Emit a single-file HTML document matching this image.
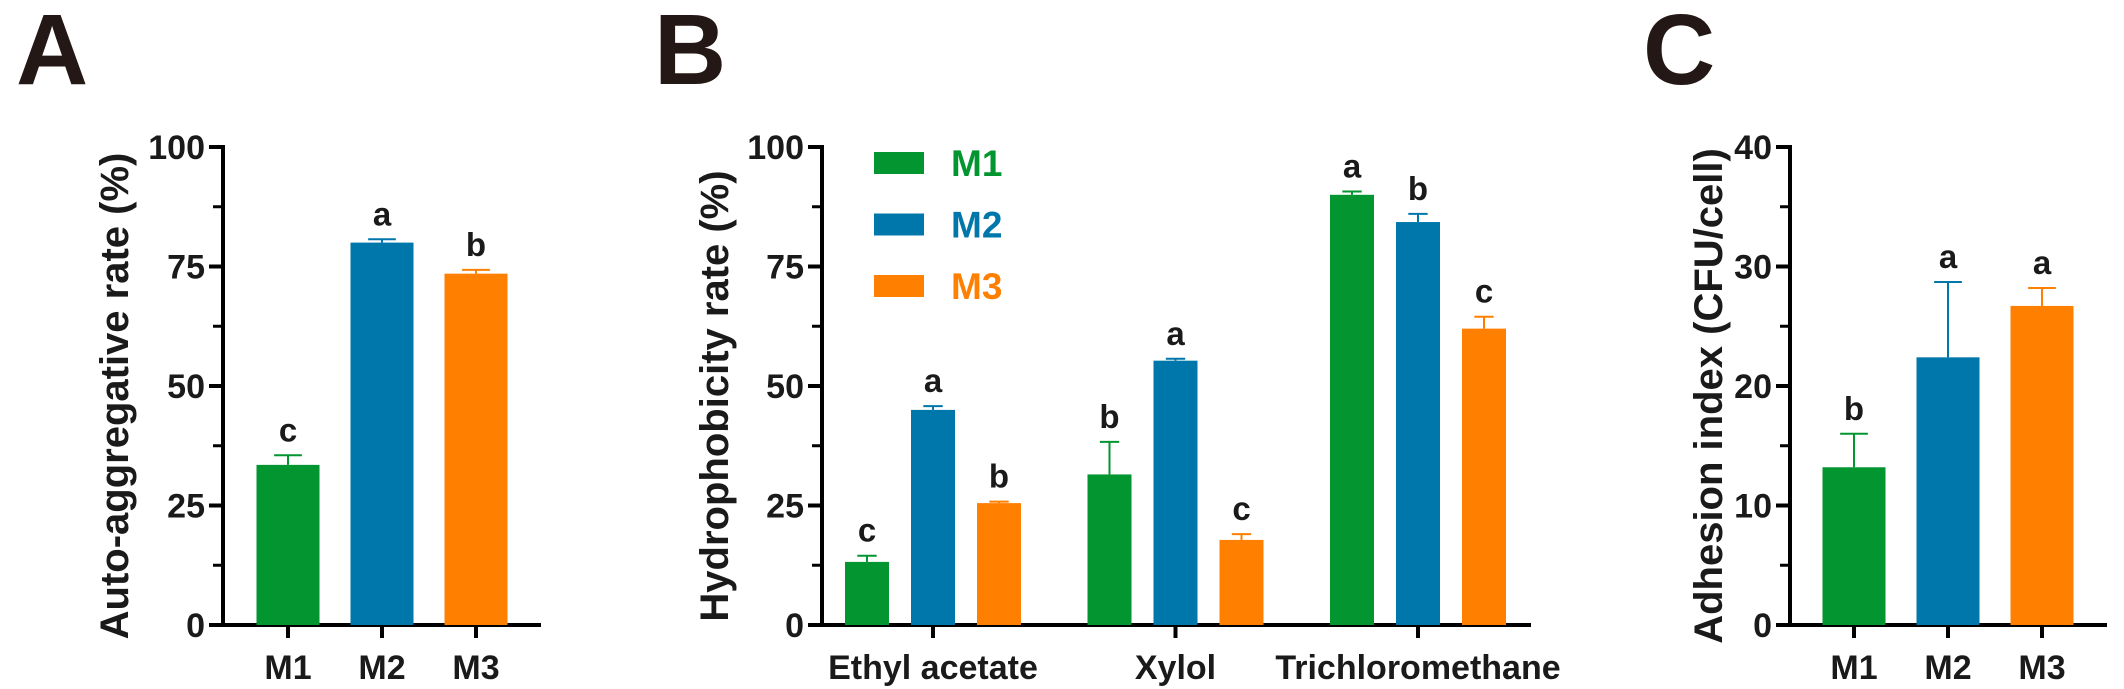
<!DOCTYPE html>
<html><head><meta charset="utf-8"><style>
html,body{margin:0;padding:0;background:#fff;}
svg{display:block;font-family:"Liberation Sans",Arial,sans-serif;font-weight:bold;}
</style></head><body>
<svg id="fig" width="2124" height="689" viewBox="0 0 2124 689"></svg>
<script>
// Panel A data
const aCats = ["M1","M2","M3"];
const aVals = [33.5, 80, 73.5];
const aErr = [2.0, 0.7, 0.8];
const aLetters = ["c","a","b"];
const aTicks = [0,25,50,75,100];
// Panel B data
const bGroups = ["Ethyl acetate","Xylol","Trichloromethane"];
const bSeries = ["M1","M2","M3"];
const bM1 = [13.2, 31.5, 90];
const bM2 = [45, 55.3, 84.3];
const bM3 = [25.5, 17.8, 62];
const bE1 = [1.3, 6.8, 0.7];
const bE2 = [0.8, 0.4, 1.7];
const bE3 = [0.3, 1.2, 2.5];
const bL1 = ["c","b","a"];
const bL2 = ["a","a","b"];
const bL3 = ["b","c","c"];
const bTicks = [0,25,50,75,100];
// Panel C data
const cCats = ["M1","M2","M3"];
const cVals = [13.2, 22.4, 26.7];
const cErr = [2.8, 6.3, 1.5];
const cLetters = ["b","a","a"];
const cTicks = [0,10,20,30,40];

const colors = ["#039530","#0077ab","#ff7f00"];
const svg = document.getElementById('fig');
const NS = "http://www.w3.org/2000/svg";
function mk(tag, attrs, parent, text){
  const e = document.createElementNS(NS, tag);
  for (const k in attrs) e.setAttribute(k, attrs[k]);
  if (text !== undefined) e.textContent = text;
  (parent||svg).appendChild(e);
  return e;
}
const Y0 = 625, Y1 = 147;

function panel(id, letter, lx, axisX, xEnd, maxV, ticks, minorStep, title, titleX){
  const g = mk('g', {});
  
  
  const L = mk('text', {x: lx, y: 84, 'font-size': 100, fill: '#231815'}, g, letter);
  
  
  const ys = v => Y0 - (v / maxV) * (Y0 - Y1);
  const ax = mk('line', {x1: axisX, y1: Y1 - 2, x2: axisX, y2: Y0 + 2, stroke: '#000', 'stroke-width': 4}, g);
  
  
  const xa = mk('line', {x1: axisX - 14, y1: Y0, x2: xEnd, y2: Y0, stroke: '#000', 'stroke-width': 4}, g);
  
  
  for (let v = 0; v <= maxV + 1e-9; v += minorStep) {
    mk('line', {x1: axisX - 10, y1: ys(v), x2: axisX, y2: ys(v), stroke: '#000', 'stroke-width': 3}, g);
  }
  ticks.forEach(t => {
    mk('line', {x1: axisX - 14, y1: ys(t), x2: axisX, y2: ys(t), stroke: '#000', 'stroke-width': 4}, g);
    const tl = mk('text', {x: axisX - 18, y: ys(t) + 12, 'font-size': 34, 'text-anchor': 'end', fill: '#1a1a1a'}, g, t);
    
    
  });
  const yt = mk('text', {x: 0, y: 0, 'font-size': 40, 'text-anchor': 'middle', fill: '#1a1a1a',
    transform: `translate(${titleX},${(Y0 + Y1) / 2 + 10}) rotate(-90)`}, g, title);
  
  
  return {g, ys};
}

function bar(g, ys, cx, w, v, e, color, letter, name){
  const r = mk('rect', {x: cx - w / 2, y: ys(v), width: w, height: Y0 - ys(v), fill: color}, g);
  
  
  const top = ys(v + e);
  mk('line', {x1: cx, y1: ys(v), x2: cx, y2: top, stroke: color, 'stroke-width': 2}, g);
  mk('line', {x1: cx - w * 0.22, y1: top, x2: cx + w * 0.22, y2: top, stroke: color, 'stroke-width': 2}, g);
  const t = mk('text', {x: cx, y: top - 14, 'font-size': 33, 'text-anchor': 'middle', fill: '#1a1a1a'}, g, letter);
  
  
}

function xlabel(g, cx, txt){
  mk('line', {x1: cx, y1: Y0, x2: cx, y2: Y0 + 13, stroke: '#000', 'stroke-width': 4}, g);
  const t = mk('text', {x: cx, y: 679, 'font-size': 34, 'text-anchor': 'middle', fill: '#1a1a1a'}, g, txt);
  
  
}

// Panel A
(function(){
  const p = panel('a', 'A', 16, 223, 541, 100, aTicks, 12.5, 'Auto-aggregative rate (%)', 128);
  aCats.forEach((c, i) => {
    const cx = 288 + i * 94;
    bar(p.g, p.ys, cx, 63, aVals[i], aErr[i], colors[i], aLetters[i], 'bar-a-' + c.toLowerCase());
    xlabel(p.g, cx, c);
  });
})();

// Panel B
(function(){
  const p = panel('b', 'B', 654, 822, 1531, 100, bTicks, 12.5, 'Hydrophobicity rate (%)', 728);
  const vals = [bM1, bM2, bM3], errs = [bE1, bE2, bE3], lets = [bL1, bL2, bL3];
  bGroups.forEach((gName, gi) => {
    const gc = 933 + gi * 242.5;
    bSeries.forEach((s, si) => {
      bar(p.g, p.ys, gc + (si - 1) * 66, 44, vals[si][gi], errs[si][gi], colors[si], lets[si][gi], 'bar-b-' + gi + '-' + s.toLowerCase());
    });
    xlabel(p.g, gc, gName);
  });
  bSeries.forEach((s, i) => {
    const y = 152 + i * 61.5;
    const sw = mk('rect', {x: 874, y: y, width: 50, height: 22, fill: colors[i]}, p.g);
    
    
    const t = mk('text', {x: 951, y: y + 24, 'font-size': 37, fill: colors[i]}, p.g, s);
    
    
  });
})();

// Panel C
(function(){
  const p = panel('c', 'C', 1643, 1790, 2107, 40, cTicks, 5, 'Adhesion index (CFU/cell)', 1722);
  cCats.forEach((c, i) => {
    const cx = 1854 + i * 94;
    bar(p.g, p.ys, cx, 63, cVals[i], cErr[i], colors[i], cLetters[i], 'bar-c-' + c.toLowerCase());
    xlabel(p.g, cx, c);
  });
})();
</script>
</body></html>
